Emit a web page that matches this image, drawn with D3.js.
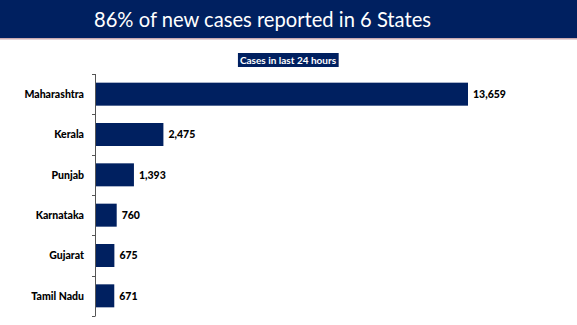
<!DOCTYPE html>
<html>
<head>
<meta charset="utf-8">
<script src="https://cdn.jsdelivr.net/npm/d3@7"></script>
<style>
  html, body { margin: 0; padding: 0; background: #fff; }
  svg { display: block; }
</style>
</head>
<body>
<svg id="chart" width="577" height="325"></svg>
<script>
// States and their new cases in the last 24 hours
const states = ["Maharashtra", "Kerala", "Punjab", "Karnataka", "Gujarat", "Tamil Nadu"];
const cases = [13659, 2475, 1393, 760, 675, 671];
const titleText = "86% of new cases reported in 6 States";
const subtitleText = "Cases in last 24 hours";

const navy = "#002060";
const svg = d3.select("#chart");
const W = 577, H = 325;
const font = "Lato, 'Open Sans', sans-serif";

// Title banner
svg.append("rect").attr("x", 0).attr("y", 0).attr("width", W).attr("height", 38).attr("fill", navy);
svg.append("rect").attr("x", 0).attr("y", 38).attr("width", W).attr("height", 1.5).attr("fill", "#c9a9b0");
svg.append("text")
  .attr("x", W / 2 - 26).attr("y", 27)
  .attr("text-anchor", "middle")
  .attr("fill", "#fff")
  .attr("font-family", font)
  .attr("font-size", 21)
  .attr("textLength", 337)
  .attr("lengthAdjust", "spacingAndGlyphs")
  .text(titleText);

// Subtitle label box
const sub = svg.append("g");
const subText = sub.append("text")
  .attr("x", 288).attr("y", 64)
  .attr("text-anchor", "middle")
  .attr("fill", "#fff")
  .attr("font-family", font)
  .attr("font-weight", "bold")
  .attr("font-size", 10)
  .text(subtitleText);
const bb = subText.node().getBBox();
sub.insert("rect", "text")
  .attr("x", bb.x - 2).attr("y", 53)
  .attr("width", bb.width + 4).attr("height", 14)
  .attr("fill", navy);

// Scales
const x0 = 96, yTop = 74, yBot = 316;
const x = d3.scaleLinear().domain([0, d3.max(cases)]).range([x0, 468]);
const y = d3.scaleBand().domain(states).range([yTop, yBot]);
const barH = 23;

// Category axis with tick marks at band boundaries
const axisG = svg.append("g");
axisG.append("line")
  .attr("x1", x0 - 0.5).attr("x2", x0 - 0.5)
  .attr("y1", yTop).attr("y2", yBot)
  .attr("stroke", "#555").attr("stroke-width", 1);
const boundaries = states.map(s => y(s)).concat([yBot]);
axisG.selectAll("line.tick").data(boundaries).join("line")
  .attr("class", "tick")
  .attr("x1", x0 - 4).attr("x2", x0 - 0.5)
  .attr("y1", d => Math.round(d) + 0.5).attr("y2", d => Math.round(d) + 0.5)
  .attr("stroke", "#555").attr("stroke-width", 1);

const data = states.map((s, i) => ({ state: s, value: cases[i] }));
const bandCenter = d => y(d.state) + y.bandwidth() / 2;

// Bars
svg.selectAll("rect.bar").data(data).join("rect")
  .attr("class", "bar")
  .attr("x", x0)
  .attr("y", d => bandCenter(d) - barH / 2)
  .attr("width", d => x(d.value) - x0)
  .attr("height", barH)
  .attr("fill", navy);

// Category labels
svg.selectAll("text.cat").data(data).join("text")
  .attr("class", "cat")
  .attr("x", 84)
  .attr("y", d => bandCenter(d) + 3.8)
  .attr("text-anchor", "end")
  .attr("font-family", font)
  .attr("font-weight", "900")
  .attr("font-size", 10.5)
  .attr("fill", "#000")
  .text(d => d.state);

// Value labels
svg.selectAll("text.val").data(data).join("text")
  .attr("class", "val")
  .attr("x", d => x(d.value) + 5)
  .attr("y", d => bandCenter(d) + 3.8)
  .attr("font-family", font)
  .attr("font-weight", "900")
  .attr("font-size", 10.5)
  .attr("fill", "#000")
  .text(d => d3.format(",")(d.value));
</script>
</body>
</html>
